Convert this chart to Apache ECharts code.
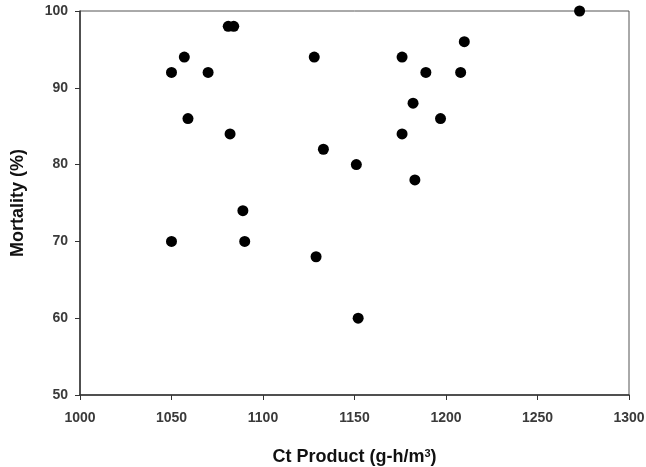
<!DOCTYPE html>
<html>
<head>
<meta charset="utf-8">
<script src="https://cdn.jsdelivr.net/npm/echarts@6/dist/echarts.min.js"></script>
<style>html,body{margin:0;padding:0;background:#fff;}#c{width:646px;height:467px;}</style>
</head>
<body>
<div id="c"></div>
<script>
const ctProduct = [1050,1057,1070,1081,1084,1059,1082,1089,1128,1133,1050,1090,1129,1152,1273,1210,1176,1189,1208,1182,1197,1176,1151,1183];
const mortality = [92,94,92,98,98,86,84,74,94,82,70,70,68,60,100,96,94,92,92,88,86,84,80,78];
const xTicks = [1000,1050,1100,1150,1200,1250,1300];
const yTicks = [50,60,70,80,90,100];

const points = ctProduct.map((x,i)=>[x, mortality[i]]);
const chart = echarts.init(document.getElementById('c'));
chart.setOption({
  animation:false,
  backgroundColor:'#fff',
  grid:{left:80,right:17,top:11,bottom:72,containLabel:false,outerBoundsMode:'none',show:true,borderColor:'#555',borderWidth:1,backgroundColor:'transparent'},
  xAxis:{
    type:'value',min:xTicks[0],max:xTicks[xTicks.length-1],interval:50,
    name:'Ct Product (g-h/m{sup|3})',nameLocation:'middle',nameGap:53,
    nameTextStyle:{fontFamily:'Liberation Sans',fontSize:18,fontWeight:'bold',color:'#111',
      rich:{sup:{fontFamily:'Liberation Sans',fontSize:11,fontWeight:'bold',color:'#111',verticalAlign:'top',padding:[0,0,8,0]}}},
    axisLine:{show:true,onZero:false,lineStyle:{color:'#333',width:1.5}},
    axisTick:{show:true,length:5,lineStyle:{color:'#333',width:1}},
    axisLabel:{margin:16,fontFamily:'Liberation Sans',fontSize:14,fontWeight:'bold',color:'#3a3a3a',formatter:v=>String(v)},
    splitLine:{show:false}
  },
  yAxis:{
    type:'value',min:yTicks[0],max:yTicks[yTicks.length-1],interval:10,
    name:'Mortality (%)',nameLocation:'middle',nameGap:53,nameRotate:90,
    nameTextStyle:{fontFamily:'Liberation Sans',fontSize:18,fontWeight:'bold',color:'#111'},
    axisLine:{show:true,onZero:false,lineStyle:{color:'#333',width:1.5}},
    axisTick:{show:true,length:5,lineStyle:{color:'#333',width:1}},
    axisLabel:{margin:12,fontFamily:'Liberation Sans',fontSize:14,fontWeight:'bold',color:'#3a3a3a',formatter:v=>String(v)},
    splitLine:{show:false}
  },
  series:[{
    type:'scatter',data:points,symbol:'circle',symbolSize:11,clip:false,
    itemStyle:{color:'#000',opacity:1}
  }]
});
</script>
</body>
</html>
